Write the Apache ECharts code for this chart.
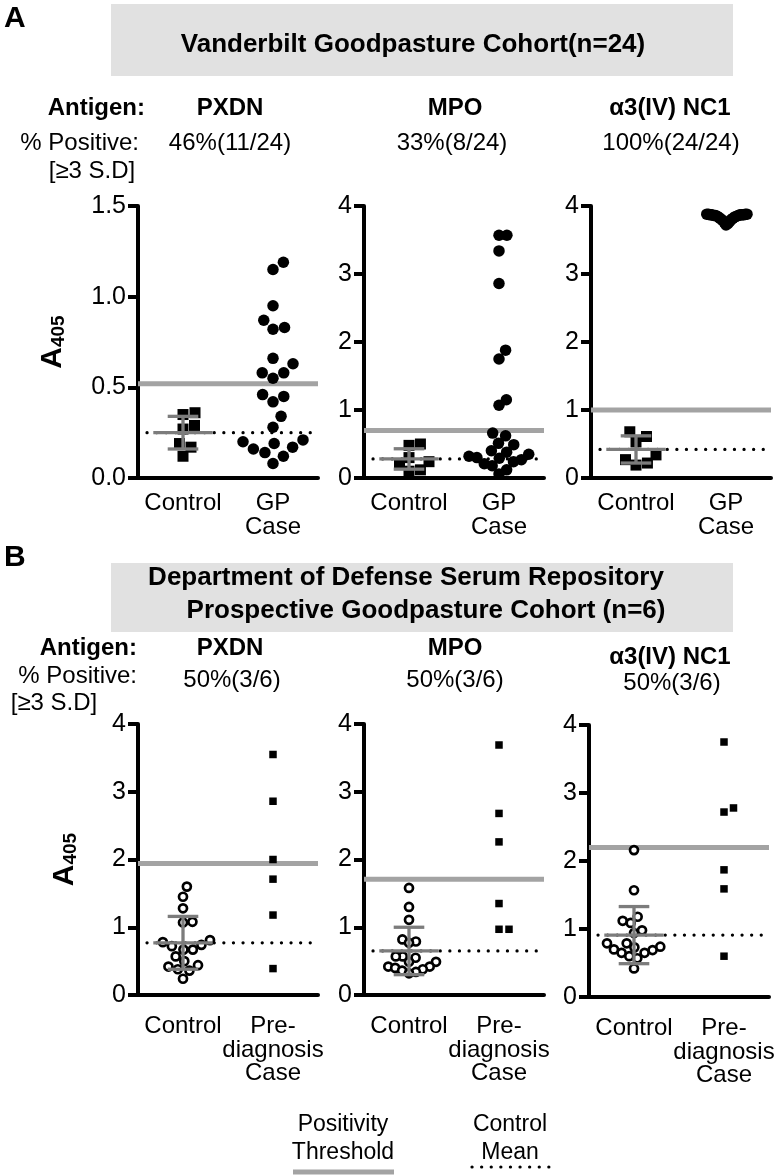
<!DOCTYPE html>
<html><head><meta charset="utf-8">
<script src="https://cdn.jsdelivr.net/npm/echarts@6/dist/echarts.min.js"></script>
<style>html,body{margin:0;padding:0;background:#fff}#c{width:780px;height:1175px}</style>
</head><body><div id="c"></div>
<script>
// ---------------- DATA ----------------
const antigens = ['PXDN', 'MPO', 'α3(IV) NC1'];
const pctA = ['46%(11/24)', '33%(8/24)', '100%(24/24)'];
const pctB = ['50%(3/6)', '50%(3/6)', '50%(3/6)'];
const catsA = ['Control', 'GP\nCase'];
const catsB = ['Control', 'Pre-\ndiagnosis\nCase'];
const yMaxA = [1.5, 4, 4];
const yStepA = [0.5, 1, 1];
const yMaxB = [4, 4, 4];
const yStepB = [1, 1, 1];

// Panel A: Vanderbilt cohort
const A_PXDN_control = [0.36, 0.35, 0.29, 0.27, 0.19, 0.17, 0.12];
const A_PXDN_case = [1.19, 1.15, 0.95, 0.87, 0.83, 0.82, 0.66, 0.63, 0.58, 0.58, 0.55, 0.46,
                     0.45, 0.42, 0.34, 0.28, 0.21, 0.20, 0.19, 0.17, 0.16, 0.14, 0.12, 0.08];
const A_MPO_control = [0.50, 0.48, 0.30, 0.24, 0.20, 0.12, 0.10];
const A_MPO_case = [3.57, 3.57, 3.34, 2.86, 1.88, 1.75, 1.15, 1.07, 0.66, 0.62, 0.51, 0.49,
                    0.40, 0.38, 0.35, 0.32, 0.30, 0.29, 0.27, 0.24, 0.21, 0.18, 0.12, 0.06];
const A_NC1_control = [0.68, 0.61, 0.53, 0.34, 0.27, 0.22, 0.19];
const A_NC1_case = [3.72, 3.74, 3.76, 3.77, 3.79, 3.80, 3.81, 3.82, 3.83, 3.84, 3.85, 3.85,
                    3.86, 3.86, 3.86, 3.87, 3.87, 3.87, 3.87, 3.87, 3.88, 3.88, 3.88, 3.88];
const A_mean = [0.25, 0.28, 0.42];
const A_sd = [0.09, 0.15, 0.20];
const A_threshold = [0.52, 0.70, 1.00];

// Panel B: DoD Serum Repository cohort
const B_PXDN_control = [1.60, 1.45, 1.28, 1.08, 1.07, 0.81, 0.78, 0.74, 0.72, 0.67, 0.67, 0.57,
                        0.50, 0.44, 0.42, 0.38, 0.36, 0.24];
const B_PXDN_case = [3.55, 2.86, 2.00, 1.71, 1.18, 0.39];
const B_MPO_control = [1.58, 1.30, 1.11, 0.82, 0.79, 0.77, 0.57, 0.57, 0.55, 0.49, 0.49, 0.42,
                       0.42, 0.40, 0.38, 0.36, 0.34, 0.32];
const B_MPO_case = [3.69, 2.68, 2.26, 1.35, 0.97, 0.97];
const B_NC1_control = [2.16, 1.57, 1.18, 1.12, 1.09, 0.98, 0.94, 0.79, 0.79, 0.74, 0.73, 0.70,
                       0.69, 0.65, 0.65, 0.60, 0.57, 0.42];
const B_NC1_case = [3.75, 2.78, 2.72, 1.87, 1.59, 0.60];
const B_mean = [0.77, 0.65, 0.91];
const B_sd = [0.39, 0.35, 0.42];
const B_threshold = [1.94, 1.71, 2.20];

// ---------------- LAYOUT / STYLE ----------------
const FONT = "'Liberation Sans', Arial, Helvetica, sans-serif";
const AX = 4;
const panels = [
  {left:138, top:206, height:272, cats:catsA, max:yMaxA[0], step:yStepA[0], ctrl:A_PXDN_control, cas:A_PXDN_case, mean:A_mean[0], sd:A_sd[0], thr:A_threshold[0], fmt:1, name:true, kind:'A'},
  {left:364, top:206, height:272, cats:catsA, max:yMaxA[1], step:yStepA[1], ctrl:A_MPO_control, cas:A_MPO_case, mean:A_mean[1], sd:A_sd[1], thr:A_threshold[1], fmt:0, name:false, kind:'A'},
  {left:591, top:206, height:272, cats:catsA, max:yMaxA[2], step:yStepA[2], ctrl:A_NC1_control, cas:A_NC1_case, mean:A_mean[2], sd:A_sd[2], thr:A_threshold[2], fmt:0, name:false, kind:'A'},
  {left:138, top:724, height:271, cats:catsB, max:yMaxB[0], step:yStepB[0], ctrl:B_PXDN_control, cas:B_PXDN_case, mean:B_mean[0], sd:B_sd[0], thr:B_threshold[0], fmt:0, name:true, kind:'B'},
  {left:364, top:724, height:271, cats:catsB, max:yMaxB[1], step:yStepB[1], ctrl:B_MPO_control, cas:B_MPO_case, mean:B_mean[1], sd:B_sd[1], thr:B_threshold[1], fmt:0, name:false, kind:'B'},
  {left:589, top:725, height:272, cats:catsB, max:yMaxB[2], step:yStepB[2], ctrl:B_NC1_control, cas:B_NC1_case, mean:B_mean[2], sd:B_sd[2], thr:B_threshold[2], fmt:0, name:false, kind:'B'}
];
const symStyle = {
  A: {ctrl:{symbol:'rect', size:11, item:{color:'#000', opacity:1}, dist:12, maxHalf:20},
      cas:{symbol:'circle', size:11.5, item:{color:'#000', opacity:1}, dist:15, maxHalf:30},
      labelMargin:14},
  B: {ctrl:{symbol:'circle', size:8, item:{color:'#fff', borderColor:'#000', borderWidth:2.7, opacity:1}, dist:11, maxHalf:27},
      cas:{symbol:'rect', size:7.5, item:{color:'#000', opacity:1}, dist:10, maxHalf:20},
      labelMargin:20}
};
const nc1MaxHalf = 21;

const grids = [], xAxes = [], yAxes = [], series = [];
const scatterIdx = [];
panels.forEach((p, i) => {
  const st = symStyle[p.kind];
  grids.push({left:p.left, top:p.top, width:180, height:p.height, containLabel:false});
  xAxes.push({type:'category', gridIndex:i, data:p.cats, boundaryGap:true,
    axisLine:{lineStyle:{color:'#000', width:AX}},
    axisTick:{alignWithLabel:true, length:10, lineStyle:{color:'#000', width:AX}},
    axisLabel:{color:'#000', fontSize:24, fontFamily:FONT, lineHeight:23.5, margin:st.labelMargin, interval:0}});
  xAxes.push({type:'value', gridIndex:i, min:0, max:2, show:false});
  yAxes.push({type:'value', gridIndex:i, min:0, max:p.max, interval:p.step,
    axisLine:{show:true, lineStyle:{color:'#000', width:AX}},
    axisTick:{show:true, length:10, lineStyle:{color:'#000', width:AX}},
    splitLine:{show:false},
    axisLabel:{color:'#000', fontSize:25, fontFamily:FONT, margin:12,
      formatter: v => p.fmt ? v.toFixed(1) : String(v)},
    name: p.name ? '{a|A}{s|405}' : '', nameLocation:'middle', nameRotate:90, nameGap:p.fmt ? 70 : 58,
    nameTextStyle:{rich:{
      a:{fontSize:30, fontWeight:'bold', fontFamily:FONT, color:'#000', lineHeight:30},
      s:{fontSize:19, fontWeight:'bold', fontFamily:FONT, color:'#000', verticalAlign:'bottom', lineHeight:30}
    }}});
  const xi = 2*i + 1;
  series.push({type:'line', xAxisIndex:xi, yAxisIndex:i, data:[[0,p.thr],[2,p.thr]], symbol:'none',
    lineStyle:{color:'#a3a3a3', width:5}, z:1, silent:true, animation:false});
  series.push({type:'line', xAxisIndex:xi, yAxisIndex:i, data:[[0.1,p.mean],[2,p.mean]], symbol:'none',
    lineStyle:{color:'#000', width:3.2, type:[0.1,9.5], cap:'round'}, z:1, silent:true, animation:false});
  scatterIdx.push({idx:series.length, vals:p.ctrl, center:0.5, st:st.ctrl});
  series.push({type:'scatter', xAxisIndex:xi, yAxisIndex:i, data:p.ctrl.map(v=>[0.5,v]),
    symbol:st.ctrl.symbol, symbolSize:st.ctrl.size, itemStyle:st.ctrl.item, z:3, animation:false});
  scatterIdx.push({idx:series.length, vals:p.cas, center:1.5,
    st: (i === 2) ? Object.assign({}, st.cas, {maxHalf:nc1MaxHalf}) : st.cas});
  series.push({type:'scatter', xAxisIndex:xi, yAxisIndex:i, data:p.cas.map(v=>[1.5,v]),
    symbol:st.cas.symbol, symbolSize:st.cas.size, itemStyle:st.cas.item, z:3, animation:false});
  series.push({type:'custom', xAxisIndex:xi, yAxisIndex:i, coordinateSystem:'cartesian2d',
    data:[[0.5, p.mean, p.sd]], encode:{x:0, y:1}, z:4, silent:true, animation:false,
    renderItem:(params, api) => {
      const x = api.value(0), m = api.value(1), s = api.value(2);
      const c = api.coord([x, m]);
      const t = api.coord([x, m + s]);
      const b = api.coord([x, Math.max(0, m - s)]);
      const hw = api.size([0.33, 0])[0], cw = api.size([0.17, 0])[0];
      const ls = {stroke:'#7c7c7c', lineWidth:3.3};
      return {type:'group', children:[
        {type:'line', shape:{x1:c[0]-hw, y1:c[1], x2:c[0]+hw, y2:c[1]}, style:ls},
        {type:'line', shape:{x1:t[0], y1:t[1], x2:b[0], y2:b[1]}, style:ls},
        {type:'line', shape:{x1:t[0]-cw, y1:t[1], x2:t[0]+cw, y2:t[1]}, style:ls},
        {type:'line', shape:{x1:b[0]-cw, y1:b[1], x2:b[0]+cw, y2:b[1]}, style:ls}
      ]};
    }});
});

// ---------------- TEXT / DECOR ----------------
function txt(text, x, y, size, bold, align) {
  return {type:'text', x, y, z:10, style:{text, fill:'#000', font:(bold?'bold ':'') + size + 'px ' + FONT,
    textAlign:align||'center', align:align||'center', textVerticalAlign:'middle', verticalAlign:'middle'}};
}
const graphics = [
  {type:'rect', shape:{x:111, y:4, width:622, height:72}, style:{fill:'#e1e1e1'}, z:0},
  {type:'rect', shape:{x:111, y:563, width:622, height:69}, style:{fill:'#e1e1e1'}, z:0},
  txt('A', 4, 19, 30, true, 'left'),
  txt('B', 4, 558, 30, true, 'left'),
  txt('Vanderbilt Goodpasture Cohort(n=24)', 413, 45, 26, true),
  txt('Department of Defense Serum Repository', 406, 578, 26, true),
  txt('Prospective Goodpasture Cohort (n=6)', 426, 611, 26, true),
  txt('Antigen:', 145, 108, 24, true, 'right'),
  txt('% Positive:', 139, 143, 24, false, 'right'),
  txt('[≥3 S.D]', 92, 171, 24, false),
  txt('Antigen:', 137, 648, 24, true, 'right'),
  txt('% Positive:', 137, 676, 24, false, 'right'),
  txt('[≥3 S.D]', 54, 703, 24, false),
  txt('Positivity', 343, 1125, 23, false),
  txt('Threshold', 343, 1153, 23, false),
  txt('Control', 510, 1125, 23, false),
  txt('Mean', 510, 1153, 23, false),
  {type:'line', shape:{x1:293, y1:1172, x2:394, y2:1172}, style:{stroke:'#a3a3a3', lineWidth:5}},
  {type:'line', shape:{x1:472, y1:1167, x2:552, y2:1167}, style:{stroke:'#000', lineWidth:3.2, lineDash:[0.1,9.5], lineCap:'round'}}
];
const hdrA = [230, 455, 670], pctAx = [230, 452, 671];
const hdrB = [230, 455, 670], pctBx = [232, 455, 672];
antigens.forEach((a, k) => {
  graphics.push(txt(a, hdrA[k], 108, 24, true));
  graphics.push(txt(pctA[k], pctAx[k], 143, 24, false));
  graphics.push(txt(a, hdrB[k], k === 2 ? 657 : 648, 24, true));
  graphics.push(txt(pctB[k], pctBx[k], k === 2 ? 683 : 680, 24, false));
});

const chart = echarts.init(document.getElementById('c'), null, {renderer:'canvas'});
chart.setOption({animation:false, backgroundColor:'#fff', grid:grids, xAxis:xAxes, yAxis:yAxes, series, graphic:graphics});

// ---------------- BEESWARM (offsets derived from values via axis scales) ----------------
function swarm(vals, seriesIndex, center, st) {
  const p0 = chart.convertToPixel({seriesIndex}, [center, 0]);
  const p1 = chart.convertToPixel({seriesIndex}, [center + 1, 1]);
  const pxX = p1[0] - p0[0], pxY = p0[1] - p1[1];
  const ys = vals.map(v => -v * pxY);
  const order = vals.map((v, i) => i).sort((a, b) => vals[a] - vals[b]);
  let off = new Array(vals.length).fill(0);
  const placed = [];
  for (const i of order) {
    let best = 0;
    for (let k = 0; k < 4000; k++) {
      const cand = k === 0 ? 0 : (k % 2 ? 1 : -1) * Math.ceil(k / 2) * 0.5;
      if (placed.every(j => Math.hypot(off[j] - cand, ys[j] - ys[i]) >= st.dist)) { best = cand; break; }
    }
    off[i] = best; placed.push(i);
  }
  const mx = Math.max(...off.map(Math.abs));
  if (mx > st.maxHalf) off = off.map(o => o * st.maxHalf / mx);
  return vals.map((v, i) => [center + off[i] / pxX, v]);
}
const upd = [];
scatterIdx.forEach(s => { upd[s.idx] = {data: swarm(s.vals, s.idx, s.center, s.st)}; });
chart.setOption({series: series.map((sr, k) => upd[k] || {})});
</script></body></html>
